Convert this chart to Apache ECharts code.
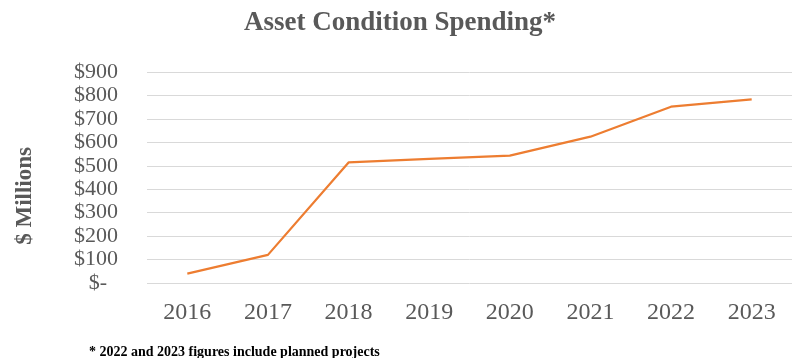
<!DOCTYPE html>
<html>
<head>
<meta charset="utf-8">
<script src="https://cdn.jsdelivr.net/npm/echarts@6/dist/echarts.min.js"></script>
<style>html,body{margin:0;padding:0;background:#fff}#c{width:800px;height:358px}</style>
</head>
<body>
<div id="c"></div>
<script>
const years = ['2016','2017','2018','2019','2020','2021','2022','2023'];
const spending = [40, 120, 514, 529, 543, 624, 752, 783];
const yMin = 0, yMax = 900, yStep = 100;
const titleText = 'Asset Condition Spending*';
const yTitle = '$ Millions';
const footnote = '* 2022 and 2023 figures include planned projects';

const serif = '"Liberation Serif", "Times New Roman", serif';
const chart = echarts.init(document.getElementById('c'), null, {renderer: 'canvas'});
chart.setOption({
  animation: false,
  backgroundColor: '#fff',
  title: [{
    text: titleText,
    left: 'center',
    top: 5,
    textStyle: {fontFamily: serif, fontWeight: 'bold', fontSize: 27, color: '#595959'}
  }, {
    text: footnote,
    left: 84,
    top: 340,
    textStyle: {fontFamily: serif, fontWeight: 'bold', fontSize: 14, color: '#000'}
  }],
  graphic: [{
    type: 'text',
    left: 14,
    top: 147,
    rotation: Math.PI / 2,
    style: {text: yTitle, font: 'bold 23px ' + serif, fill: '#595959'}
  }],
  grid: {left: 147, right: 8, top: 72, bottom: 75, containLabel: false},
  xAxis: {
    type: 'category',
    data: years,
    boundaryGap: true,
    axisLine: {show: false},
    axisTick: {show: false},
    axisLabel: {fontFamily: serif, fontSize: 24, color: '#595959', margin: 18}
  },
  yAxis: {
    type: 'value',
    min: yMin, max: yMax, interval: yStep,
    axisLine: {show: false},
    axisTick: {show: false},
    splitLine: {lineStyle: {color: '#d9d9d9', width: 1}},
    axisLabel: {
      fontFamily: serif, fontSize: 22, color: '#595959', margin: 29,
      formatter: v => v === 0 ? '$-  ' : '$' + v
    }
  },
  series: [{
    type: 'line',
    data: spending,
    symbol: 'none',
    lineStyle: {color: '#ED7D31', width: 2.25},
    itemStyle: {color: '#ED7D31'}
  }]
});
</script>
</body>
</html>
